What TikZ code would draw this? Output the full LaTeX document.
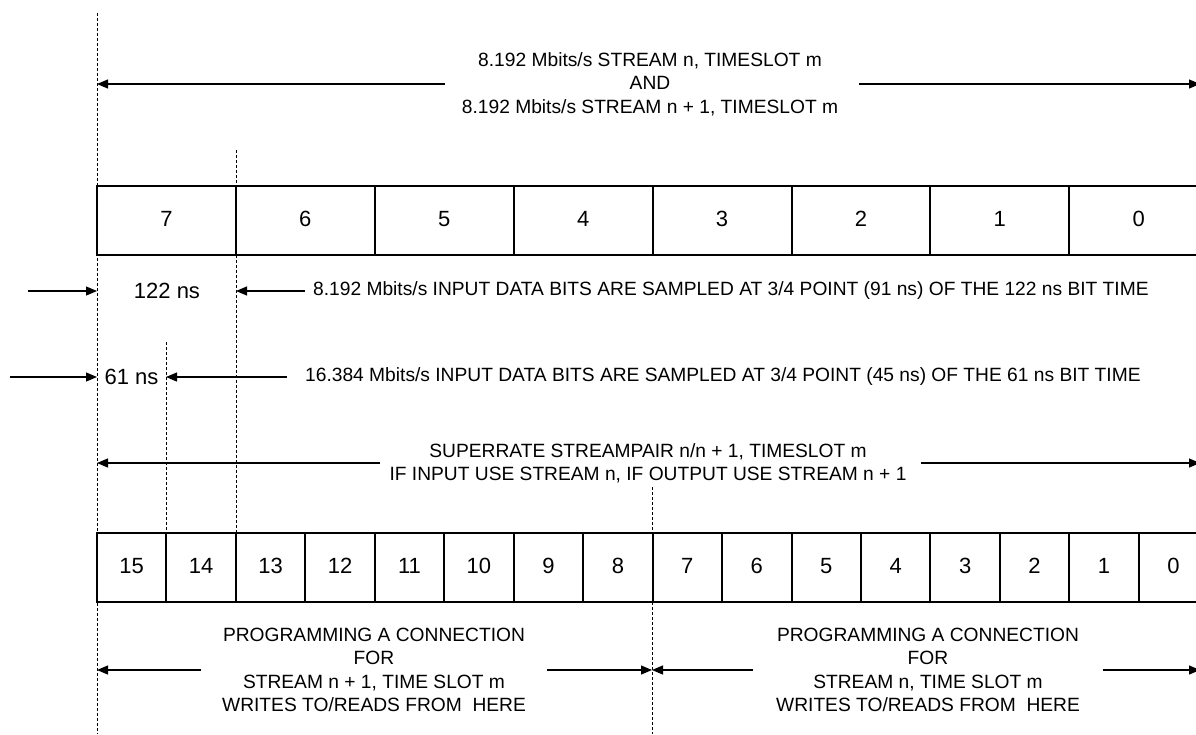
\documentclass[tikz,border=0pt]{standalone}
\usepackage{fontspec}
\setmainfont{Liberation Sans}
\usetikzlibrary{arrows.meta, positioning}
\def\bitw{138.9}
\def\halfw{69.45}

\begin{document}
\begin{tikzpicture}[x=1pt,y=-1pt,>={Triangle[length=11pt,width=9pt]},
    font=\fontsize{19.2}{23.3}\selectfont]
    \tikzstyle{bit cell}=[draw, line width=2pt, minimum height=69pt, inner sep=0pt,
        text height=11pt, text depth=0pt, font=\fontsize{22}{24}\selectfont]
    \tikzstyle{wide cell}=[bit cell, minimum width=\bitw pt]
    \tikzstyle{narrow cell}=[bit cell, minimum width=\halfw pt]
    \tikzstyle{marker}=[dash pattern=on 3pt off 2pt, line width=0.9pt]
    \tikzstyle{dim}=[->, line width=1.2pt]
    \tikzstyle{annot}=[align=center, inner sep=0pt]
    \tikzstyle{timing}=[inner sep=0pt, font=\fontsize{22}{24}\selectfont]

    \useasboundingbox (0,0) rectangle (1196,734);
    \clip (0,0) rectangle (1196,734);

    % Dashed sampling markers
    \coordinate (m0) at (97,13);
    \coordinate (m1) at (236,150);
    \coordinate (m2) at (166,342);
    \coordinate (m3) at (652,487);
    \coordinate (rEdge) at (1200,0);
    \draw[marker] (m0) -- (97,734);
    \draw[marker] (m1) -- (236,533);
    \draw[marker] (m2) -- (166,533);
    \draw[marker] (m3) -- (652,734);

    % Draw the 8.192 Mbits/s bit cells
    \foreach \i [evaluate=\i as \bit using int(7-\i)] in {0,...,7}
        \node[wide cell] (W-\i) at ({97+\bitw*(\i+0.5)},220.5) {\bit};

    % Draw the 16.384 Mbits/s bit cells
    \foreach \i [evaluate=\i as \bit using int(15-\i)] in {0,...,15}
        \node[narrow cell] (N-\i) at ({97+\halfw*(\i+0.5)},567.5) {\bit};

    % Stream annotation on top
    \node[annot] (pair8) at (650,84) {8.192 Mbits/s STREAM n, TIMESLOT m\\AND\\8.192 Mbits/s STREAM n + 1, TIMESLOT m};
    \draw[dim] ([xshift=-17pt]pair8.west) -- (pair8.west -| m0);
    \draw[dim] ([xshift=21pt]pair8.east) -- (pair8.east -| rEdge);

    % Bit time at 8.192 Mbits/s
    \coordinate (in122) at (28,291);
    \node[timing] (t122) at (167,291) {122 ns};
    \node[anchor=west, inner sep=0pt] (s122) at (313,291) {8.192 Mbits/s INPUT DATA BITS ARE SAMPLED AT 3/4 POINT (91 ns) OF THE 122 ns BIT TIME};
    \draw[dim] (in122) -- (in122 -| m0);
    \draw[dim] ([xshift=-8pt]s122.west) -- (s122.west -| m1);

    % Bit time at 16.384 Mbits/s
    \coordinate (in61) at (10,377);
    \node[timing] (t61) at (131.5,377) {61 ns};
    \node[anchor=west, inner sep=0pt] (s61) at (305,377) {16.384 Mbits/s INPUT DATA BITS ARE SAMPLED AT 3/4 POINT (45 ns) OF THE 61 ns BIT TIME};
    \draw[dim] (in61) -- (in61 -| m0);
    \draw[dim] ([xshift=-18pt]s61.west) -- (s61.west -| m2);

    % Superrate stream pair
    \node[annot] (superpair) at (648,463) {SUPERRATE STREAMPAIR n/n + 1, TIMESLOT m\\IF INPUT USE STREAM n, IF OUTPUT USE STREAM n + 1};
    \draw[dim] ([xshift=-9pt]superpair.west) -- (superpair.west -| m0);
    \draw[dim] ([xshift=14pt]superpair.east) -- (superpair.east -| rEdge);

    % Programming a connection
    \node[annot] (progA) at (374,670) {PROGRAMMING A CONNECTION\\FOR\\STREAM n + 1, TIME SLOT m\\WRITES TO/READS FROM~ HERE};
    \node[annot] (progB) at (928,670) {PROGRAMMING A CONNECTION\\FOR\\STREAM n, TIME SLOT m\\WRITES TO/READS FROM~ HERE};
    \draw[dim] ([xshift=-21pt]progA.west) -- (progA.west -| m0);
    \draw[dim] ([xshift=21pt]progA.east) -- (progA.east -| m3);
    \draw[dim] ([xshift=-23pt]progB.west) -- (progB.west -| m3);
    \draw[dim] ([xshift=23pt]progB.east) -- (progB.east -| rEdge);

\end{tikzpicture}
\end{document}
